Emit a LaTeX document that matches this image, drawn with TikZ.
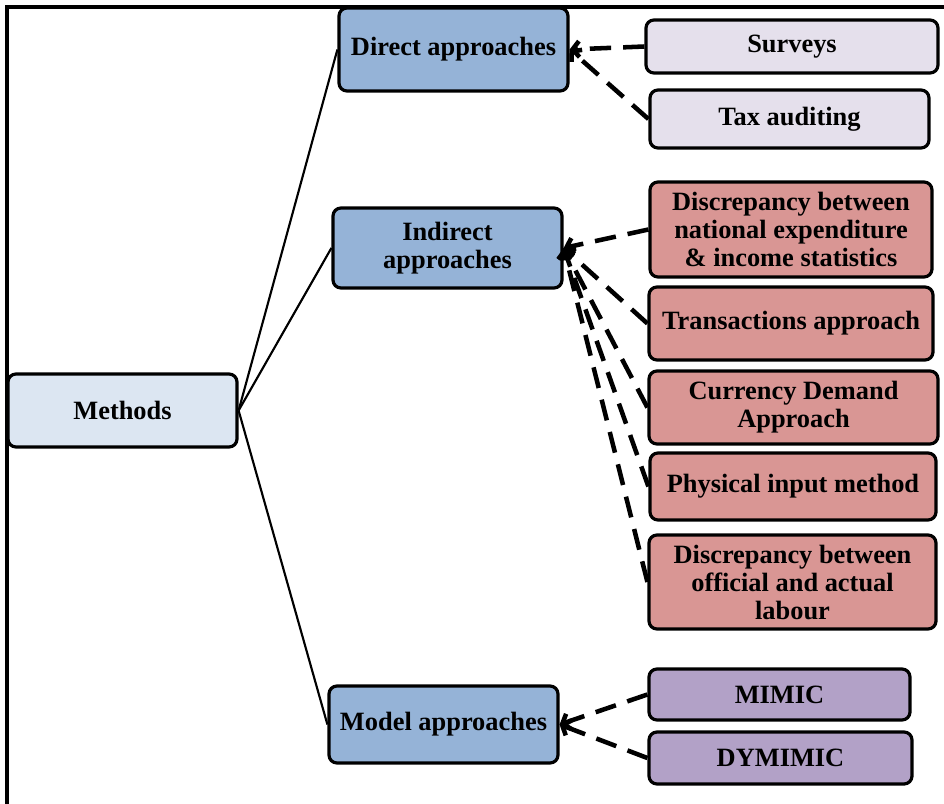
\documentclass[tikz,border=0pt]{standalone}
\usepackage{fontspec}
\setmainfont{Liberation Serif}
\usepackage{tikz}
\usetikzlibrary{arrows.meta}

\definecolor{methodblue}{HTML}{DCE6F2}
\definecolor{groupblue}{HTML}{95B3D7}
\definecolor{directlilac}{HTML}{E5E0EC}
\definecolor{indirectred}{HTML}{D99694}
\definecolor{modelpurple}{HTML}{B2A1C7}

\begin{document}
\begin{tikzpicture}[
    x=0.75pt,y=-0.75pt,
    box/.style={draw,line width=2.4pt,rounded corners=6pt,inner sep=0pt,
                align=center,font=\fontsize{19.8}{21}\selectfont\bfseries},
    group/.style={box,fill=groupblue,minimum width=171.75pt},
    branch/.style={line width=1.6pt},
    % Dashed links point back to their group box
    link/.style={line width=3.4pt,dash pattern=on 16pt off 9pt,
                 -{Straight Barb[length=5pt,width=12pt]}},
    ]

    \useasboundingbox (0,0) rectangle (944,803);

    % Frame
    \draw[line width=2.4pt] (7,810) -- (7,7) -- (950,7);

    % Root
    \node[box,fill=methodblue,minimum width=171.75pt,minimum height=54.75pt]
        (methods) at (122.5,410.5) {Methods};

    % Groups
    \node[group,minimum height=62.25pt] (direct) at (453.5,49.5) {Direct approaches};
    \node[group,minimum height=60pt] (indirect) at (447.5,248) {Indirect\\approaches};
    \node[group,minimum height=57.75pt] (model) at (443.5,724.5) {Model approaches};

    % Direct approaches
    \node[box,fill=directlilac,minimum width=219pt,minimum height=39.75pt]
        (surveys) at (792,46.5) {Surveys};
    \node[box,fill=directlilac,minimum width=209.25pt,minimum height=43.5pt]
        (tax) at (789.5,119) {Tax auditing};

    % Indirect approaches
    \node[box,fill=indirectred,minimum width=211.5pt,minimum height=71.25pt]
        (natdisc) at (791,229.5) {Discrepancy between\\national expenditure\\\& income statistics};
    \node[box,fill=indirectred,minimum width=213pt,minimum height=54.75pt]
        (trans) at (791,323.5) {Transactions approach};
    \node[box,fill=indirectred,minimum width=216.75pt,minimum height=54.75pt]
        (currency) at (793.5,407.5) {Currency Demand\\Approach};
    \node[box,fill=indirectred,minimum width=214.5pt,minimum height=50.25pt]
        (physical) at (793,486.5) {Physical input method};
    \node[box,fill=indirectred,minimum width=215.25pt,minimum height=70.5pt]
        (labour) at (792.5,582) {Discrepancy between\\official and actual\\labour};

    % Model approaches
    \node[box,fill=modelpurple,minimum width=195.75pt,minimum height=38.25pt]
        (mimic) at (779.5,694.5) {MIMIC};
    \node[box,fill=modelpurple,minimum width=197.25pt,minimum height=39pt]
        (dymimic) at (780.5,758) {DYMIMIC};

    % Root to groups
    \draw[branch] (methods.east) -- (direct.west);
    \draw[branch] (methods.east) -- (indirect.west);
    \draw[branch] (methods.east) -- (model.west);

    % Leaves to groups
    \draw[link] (surveys.west) -- (direct.east);
    \draw[link] (tax.west) -- (direct.east);
    \foreach \leaf in {natdisc,trans,currency,physical,labour}
        \draw[link] (\leaf.west) -- (indirect.east);
    \draw[link] (mimic.west) -- (model.east);
    \draw[link] (dymimic.west) -- (model.east);
\end{tikzpicture}
\end{document}
